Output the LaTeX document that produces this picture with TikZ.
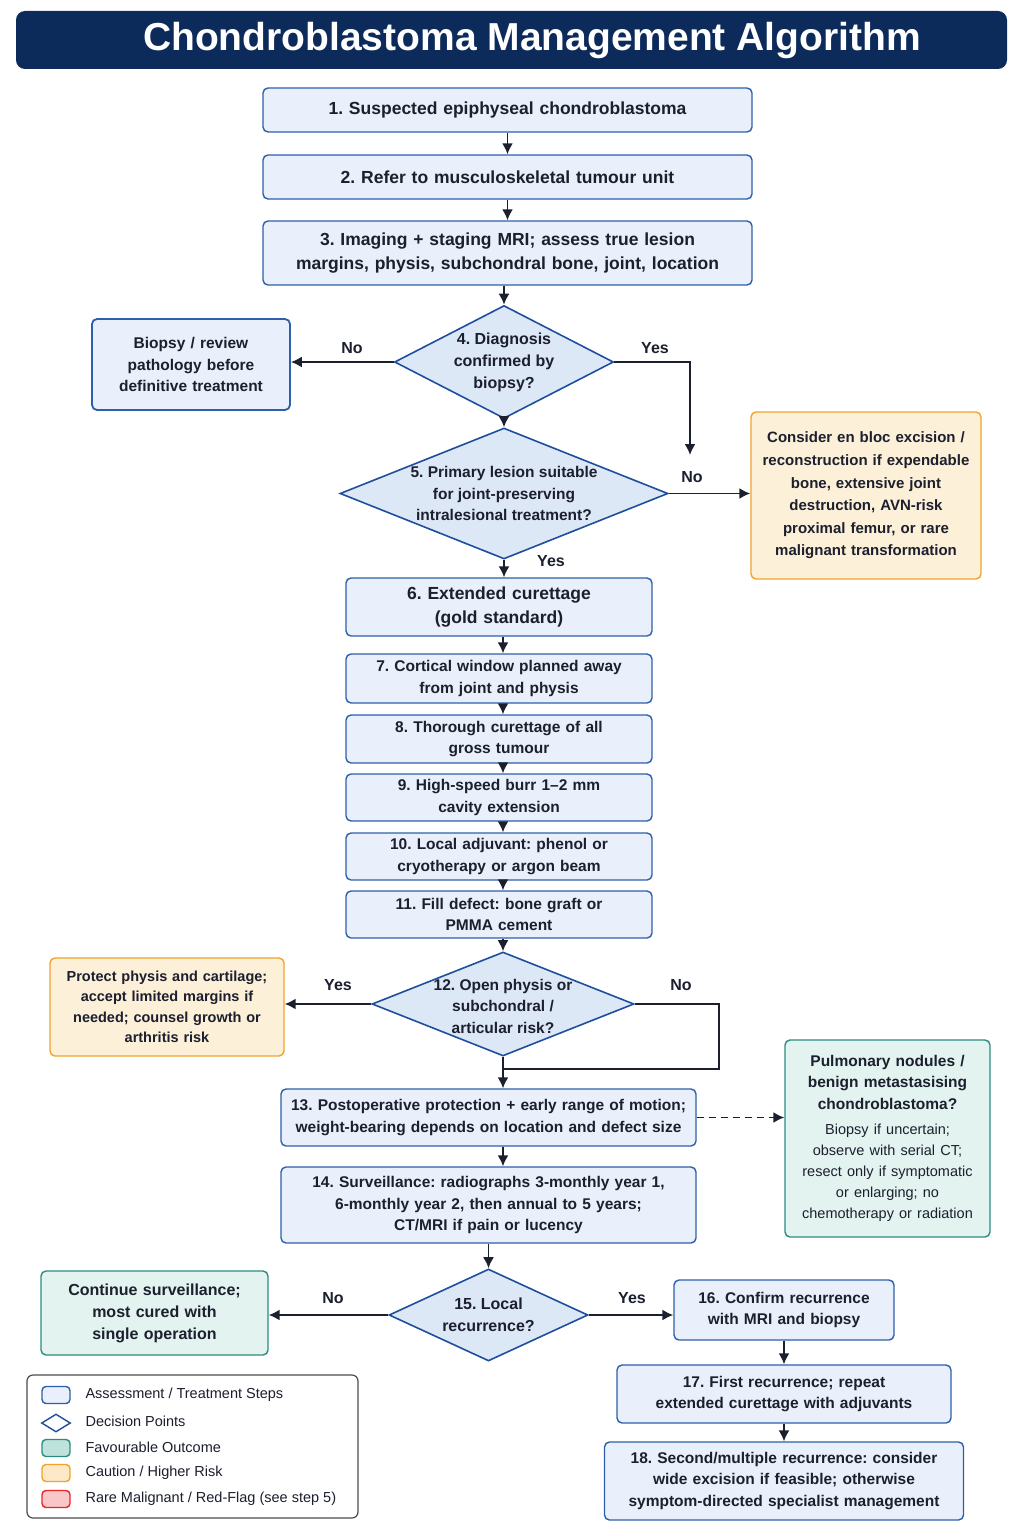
\documentclass[tikz,border=0pt]{standalone}
\usepackage{fontspec}
\setmainfont{Liberation Sans}
\usetikzlibrary{arrows.meta,shapes.geometric}
\definecolor{ink}{HTML}{1B1F2E}
\definecolor{navy}{HTML}{0C2B5B}
\definecolor{stepline}{HTML}{2D5FAA}
\definecolor{stepfill}{HTML}{E9F0FB}
\definecolor{decline}{HTML}{1F4F9C}
\definecolor{decfill}{HTML}{DDE8F7}
\definecolor{warnline}{HTML}{F0A32A}
\definecolor{warnfill}{HTML}{FDF0D9}
\definecolor{goodline}{HTML}{2B8C7E}
\definecolor{goodfill}{HTML}{E3F3EF}
\definecolor{keygood}{HTML}{BFE3DC}
\definecolor{keywarn}{HTML}{FDE8C8}
\definecolor{redline}{HTML}{E8262A}
\definecolor{redfill}{HTML}{F9C7C7}
\frenchspacing
\begin{document}
\begin{tikzpicture}[x=1pt,y=-1pt,
  f14/.style={font=\bfseries\fontsize{14.5}{20.5}\selectfont},
  f15/.style={font=\bfseries\fontsize{15.5}{21.5}\selectfont},
  f16/.style={font=\bfseries\fontsize{16}{22}\selectfont},
  f17/.style={font=\bfseries\fontsize{17.5}{24}\selectfont},
  box/.style 2 args={draw, rounded corners=5pt, line width=1.4pt, align=center, inner sep=0pt, text=ink, text width=#1, minimum height=#2},
  stepbox/.style 2 args={box={#1}{#2}, draw=stepline, fill=stepfill},
  warnbox/.style 2 args={box={#1}{#2}, draw=warnline, fill=warnfill},
  goodbox/.style 2 args={box={#1}{#2}, draw=goodline, fill=goodfill},
  dec/.style 2 args={diamond, draw=decline, fill=decfill, line width=1.6pt, inner sep=0pt, minimum width=#1, minimum height=#2},
  dlab/.style={align=center, text=ink},
  yn/.style={f16, text=ink},
  arr/.style={-{Latex[length=11pt,width=11pt]}, line width=1.8pt, draw=ink},
  line/.style={line width=1.8pt, draw=ink},
  keybox/.style={draw, rounded corners=4pt, line width=1.4pt, minimum width=28, minimum height=17, inner sep=0pt},
  keytext/.style={anchor=west, text=ink, font=\fontsize{14.5}{17}\selectfont}]
\useasboundingbox (0,0) rectangle (1024,1536);
\fill[navy, rounded corners=9pt] (16,11) rectangle (1007,69);
\node[text=white, font=\bfseries\fontsize{39}{41}\selectfont] (title) at (532,41) {Chondroblastoma Management Algorithm};

\node[stepbox={489}{44},f17] (s1) at (507.5,110) {1. Suspected epiphyseal chondroblastoma};
\node[stepbox={489}{44},f17] (s2) at (507.5,177) {2. Refer to musculoskeletal tumour unit};
\node[stepbox={489}{64},f17] (s3) at (507.5,253) {3. Imaging + staging MRI; assess true lesion\\margins, physis, subchondral bone, joint, location};
\node[dec={219}{113},label={[dlab,f16]center:{4. Diagnosis\\confirmed by\\biopsy?}}] (q4) at (504,362) {};
\node[stepbox={198}{91},f15,line width=1.8pt] (b4) at (191,364.5) {Biopsy / review\\pathology before\\definitive treatment};
\coordinate (c4) at (690,455);
\node[dec={328}{131},label={[dlab,f15]center:{5. Primary lesion suitable\\for joint-preserving\\intralesional treatment?}}] (q5) at (504,493.5) {};
\node[warnbox={230}{167},font=\bfseries\fontsize{15}{22.6}\selectfont] (w5) at (866,495.5) {Consider en bloc excision /\\reconstruction if expendable\\bone, extensive joint\\destruction, AVN-risk\\proximal femur, or rare\\malignant transformation};

\node[stepbox={306}{58},f17] (s6) at (499,607) {6. Extended curettage\\(gold standard)};
\node[stepbox={306}{49},f15] (s7) at (499,678.5) {7. Cortical window planned away\\from joint and physis};
\node[stepbox={306}{48},f15] (s8) at (499,739) {8. Thorough curettage of all\\gross tumour};
\node[stepbox={306}{47},f15] (s9) at (499,797.5) {9. High-speed burr 1--2 mm\\cavity extension};
\node[stepbox={306}{47},f15] (s10) at (499,856.5) {10. Local adjuvant: phenol or\\cryotherapy or argon beam};
\node[stepbox={306}{47},f15] (s11) at (499,914.5) {11. Fill defect: bone graft or\\PMMA cement};

\node[dec={262}{104},label={[dlab,f15,yshift=-2pt]center:{12. Open physis or\\subchondral /\\articular risk?}}] (q12) at (503,1004) {};
\node[warnbox={234}{98},f14] (w12) at (167,1007) {Protect physis and cartilage;\\accept limited margins if\\needed; counsel growth or\\arthritis risk};
\coordinate (j13) at (503,1069);
\node[stepbox={415}{57},f15] (s13) at (488.5,1117.5) {13. Postoperative protection + early range of motion;\\weight-bearing depends on location and defect size};
\node[goodbox={205}{197},f15] (g13) at (887.5,1138.5) {Pulmonary nodules /\\benign metastasising\\chondroblastoma?\par\vspace{4pt}\mdseries\fontsize{14.5}{21}\selectfont Biopsy if uncertain;\\observe with serial CT;\\resect only if symptomatic\\or enlarging; no\\chemotherapy or radiation};
\node[stepbox={415}{76},f15] (s14) at (488.5,1205) {14. Surveillance: radiographs 3-monthly year 1,\\6-monthly year 2, then annual to 5 years;\\CT/MRI if pain or lucency};

\node[dec={199}{92},label={[dlab,f16]center:{15. Local\\recurrence?}}] (q15) at (488.5,1315) {};
\node[goodbox={227}{84},f16] (g15) at (154.5,1313) {Continue surveillance;\\most cured with\\single operation};
\node[stepbox={220}{60},f15] (s16) at (784,1310) {16. Confirm recurrence\\with MRI and biopsy};
\node[stepbox={334}{58},f15] (s17) at (784,1394) {17. First recurrence; repeat\\extended curettage with adjuvants};
\node[stepbox={359}{78},f15] (s18) at (784,1481) {18. Second/multiple recurrence: consider\\wide excision if feasible; otherwise\\symptom-directed specialist management};

\draw[arr] (s1) -- (s2);
\draw[arr] (s2) -- (s3);
\draw[arr] (s3.south -| q4) -- (q4.north);
\draw[arr] (q4.west) -- (b4.east |- q4.west);
\draw[arr] (q4.east) -| (c4);
\draw[arr] (q4.south) -- (q5.north);
\draw[arr] (q5.east) -- (w5.west |- q5.east);
\draw[arr] (q5.south) -- (q5.south |- s6.north);
\draw[arr] (s6.south -| q12) -- (s7.north -| q12);
\draw[arr] (s7.south -| q12) -- (s8.north -| q12);
\draw[arr] (s8.south -| q12) -- (s9.north -| q12);
\draw[arr] (s9.south -| q12) -- (s10.north -| q12);
\draw[arr] (s10.south -| q12) -- (s11.north -| q12);
\draw[arr] (s11.south -| q12) -- (q12.north);
\draw[arr] (q12.west) -- (w12.east |- q12.west);
\draw[line] (q12.east) -- ++(84,0) |- (j13);
\draw[arr] (q12.south) -- (q12.south |- s13.north);
\draw[arr, dash pattern=on 7pt off 5pt] (s13.east) -- (g13.west |- s13.east);
\draw[arr] (s13.south -| q12) -- (s14.north -| q12);
\draw[arr] (s14) -- (q15);
\draw[arr] (q15.west) -- (g15.east |- q15.west);
\draw[arr] (q15.east) -- (s16.west |- q15.east);
\draw[arr] (s16) -- (s17);
\draw[arr] (s17) -- (s18);

\node[yn] (n4) at (352,348) {No};
\node[yn] (y4) at (655,348) {Yes};
\node[yn] (n5) at (692,477) {No};
\node[yn] (y5) at (551,561) {Yes};
\node[yn] (y12) at (338,985) {Yes};
\node[yn] (n12) at (681,985) {No};
\node[yn] (n15) at (333,1298) {No};
\node[yn] (y15) at (632,1298) {Yes};

\draw[draw=black!70, line width=1.2pt, fill=white, rounded corners=6pt] (27,1375) rectangle (358,1518);
\node[keybox, draw=stepline, fill=stepfill] (k1) at (56,1395) {};
\node[dec={29}{18}, line width=1.4pt, fill=white] (k2) at (56,1423) {};
\node[keybox, draw=goodline, fill=keygood] (k3) at (56,1448) {};
\node[keybox, draw=warnline, fill=keywarn] (k4) at (56,1473) {};
\node[keybox, draw=redline, fill=redfill] (k5) at (56,1499) {};
\node[keytext] (t1) at (82,1395) {Assessment / Treatment Steps};
\node[keytext] (t2) at (82,1421) {Decision Points};
\node[keytext] (t3) at (82,1447) {Favourable Outcome};
\node[keytext] (t4) at (82,1473) {Caution / Higher Risk};
\node[keytext] (t5) at (82,1499) {Rare Malignant / Red-Flag (see step 5)};
\end{tikzpicture}
\end{document}
